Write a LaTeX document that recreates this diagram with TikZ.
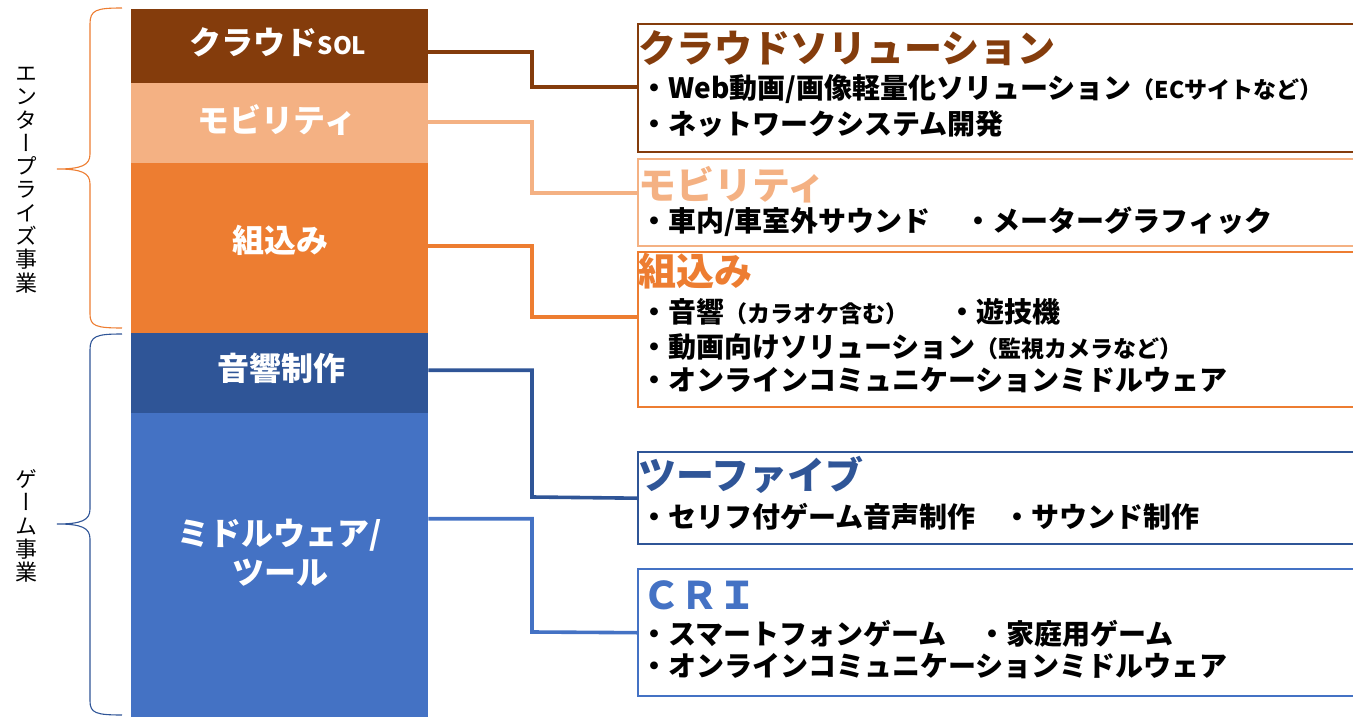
\documentclass[tikz,border=0pt]{standalone}
\usepackage{fontspec}
\usetikzlibrary{calc}
\newfontfamily\jp{Noto Sans CJK JP}
\newfontfamily\jpv[RawFeature=+vert]{Noto Sans CJK JP}
\definecolor{cBrown}{HTML}{843C0C}
\definecolor{cLOrange}{HTML}{F4B183}
\definecolor{cOrange}{HTML}{ED7D31}
\definecolor{cDBlue}{HTML}{2F5597}
\definecolor{cBlue}{HTML}{4472C4}
\tikzset{
  seg/.style={rectangle, inner sep=0pt, minimum width=297pt, anchor=north west, fill=#1, draw=none},
  seglabel/.style={text=white, font=\jp\bfseries\fontsize{32}{38}\selectfont, align=center, inner sep=0pt},
  infobox/.style={rectangle, draw=#1, line width=2.4pt, anchor=north west, minimum width=730pt, inner sep=0pt},
  title/.style={text=#1, font=\jp\bfseries\fontsize{38}{40}\selectfont, anchor=west, inner sep=0pt},
  item/.style={text=black, font=\jp\bfseries\fontsize{28}{30}\selectfont, anchor=west, inner sep=0pt},
  conn/.style={draw=#1, line width=3.6pt},
  brace/.style={draw=#1, line width=1.1pt},
  side/.style={font=\jpv\fontsize{22}{23.3}\selectfont, align=center, inner sep=0pt, text=black},
}
\newcommand{\smtxt}[1]{{\fontsize{23}{24}\selectfont #1}}
\begin{document}
\begin{tikzpicture}[x=1pt, y=-1pt]
\useasboundingbox (0,0) rectangle (1353,717);
\clip (0,0) rectangle (1353,717);
% left column segments
\node[seg=cBrown, minimum height=74pt] (sCloud) at (131,9) {};
\node[seg=cLOrange, minimum height=80pt] (sMob) at (131,83) {};
\node[seg=cOrange, minimum height=170pt] (sEmb) at (131,163) {};
\node[seg=cDBlue, minimum height=80pt] (sAud) at (131,333) {};
\node[seg=cBlue, minimum height=305pt] (sMid) at (131,413) {};
% segment labels
\node[seglabel] (lCloud) at (278,42) {クラウド{\fontsize{24}{26}\selectfont SOL}};
\node[seglabel] (lMob) at (277,120) {モビリティ};
\node[seglabel] (lEmb) at (280,240) {組込み};
\node[seglabel] (lAud) at (281,368) {音響制作};
\node[seglabel] (lMid1) at (280,535) {ミドルウェア/};
\node[seglabel] (lMid2) at (280,573) {ツール};
% side labels
\node[side] (sideEnt) at (27,180) {エ\\ン\\タ\\ー\\プ\\ラ\\イ\\ズ\\事\\業};
\node[side] (sideGame) at (27,526) {ゲ\\ー\\ム\\事\\業};
% braces
\draw[brace=cOrange] (122,8) .. controls (96,8) and (90,10) .. (90,24) -- (90,154)
  .. controls (90,165) and (82,169) .. (57,169) .. controls (82,169) and (90,173) .. (90,184)
  -- (90,314) .. controls (90,326) and (96,328) .. (122,328);
\draw[brace=cDBlue] (122,334) .. controls (96,334) and (90,336) .. (90,350) -- (90,509)
  .. controls (90,520) and (82,524) .. (57,524) .. controls (82,524) and (90,528) .. (90,539)
  -- (90,701) .. controls (90,713) and (96,715) .. (122,715);
% right boxes
\node[infobox=cBrown, minimum height=128pt] (bCloud) at (637,23) {};
\node[infobox=cLOrange, minimum height=87pt] (bMob) at (637,158) {};
\node[infobox=cOrange, minimum height=155pt] (bEmb) at (637,251) {};
\node[infobox=cDBlue, minimum height=92pt] (bTwo) at (637,451) {};
\node[infobox=cBlue, minimum height=127pt] (bCri) at (637,568) {};
% box texts
\node[title=cBrown] (tCloud) at (638,48) {クラウドソリューション};
\node[item] (iCloud1) at (640,89) {・Web動画/画像軽量化ソリューション\smtxt{（ECサイトなど）}};
\node[item] (iCloud2) at (640,124) {・ネットワークシステム開発};
\node[title=cLOrange] (tMob) at (638,185) {モビリティ};
\node[item] (iMob1) at (640,222) {・車内/車室外サウンド　\hspace{6pt}・メーターグラフィック};
\node[title=cOrange] (tEmb) at (638,271) {組込み};
\node[item] (iEmb1) at (640,312) {・音響\smtxt{（カラオケ含む）}　\hspace{12pt}・遊技機};
\node[item] (iEmb2) at (640,347) {・動画向けソリューション\smtxt{（監視カメラなど）}};
\node[item] (iEmb3) at (640,380) {・オンラインコミュニケーションミドルウェア};
\node[title=cDBlue] (tTwo) at (638,475) {ツーファイブ};
\node[item] (iTwo1) at (640,517) {・セリフ付ゲーム音声制作　・サウンド制作};
\node[title=cBlue] (tCri) at (642,595) {ＣＲＩ};
\node[item] (iCri1) at (640,634) {・スマートフォンゲーム　\hspace{4pt}・家庭用ゲーム};
\node[item] (iCri2) at (640,666) {・オンラインコミュニケーションミドルウェア};
% connectors
\draw[conn=cBrown] ($(sCloud.east)+(0,6)$) -| (532,87) -- (bCloud.west |- 0,87);
\draw[conn=cLOrange] ($(sMob.east)+(0,-1)$) -| (532,193) -- (bMob.west |- 0,193);
\draw[conn=cOrange] ($(sEmb.east)+(0,-2)$) -| (532,317) -- (bEmb.west |- 0,317);
\draw[conn=cDBlue] ($(sAud.east)+(0,-3)$) -| (532,497) -- (bTwo.west);
\draw[conn=cBlue] ($(sMid.east)+(0,-47)$) -| (532,632) -- (bCri.west);
\end{tikzpicture}
\end{document}
